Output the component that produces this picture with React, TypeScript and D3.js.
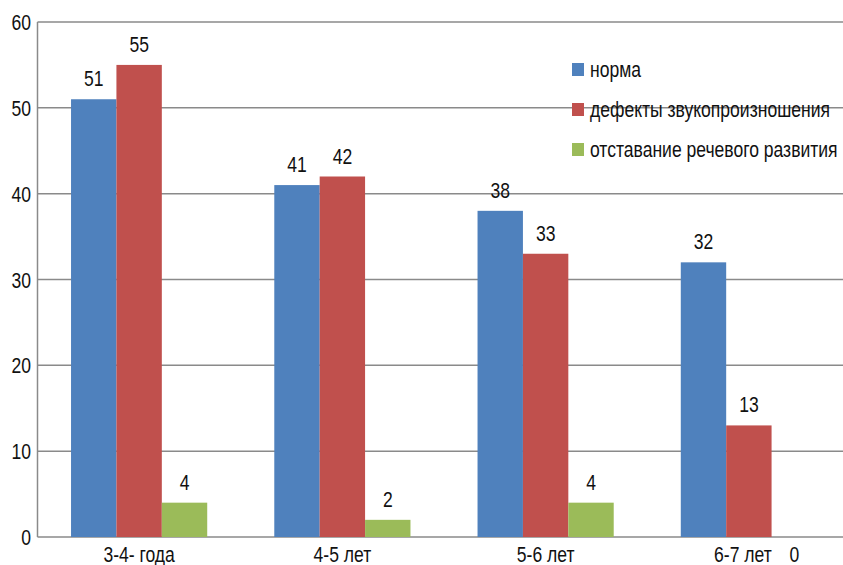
import React from "react";
import * as d3 from "d3";

const categories = ["3-4- года", "4-5 лет", "5-6 лет", "6-7 лет"];
const seriesNames = ["норма", "дефекты звукопроизношения", "отставание речевого развития"];
const norma = [51, 41, 38, 32];
const defects = [55, 42, 33, 13];
const delay = [4, 2, 4, 0];
const yTicks = [0, 10, 20, 30, 40, 50, 60];
const colors = ["#4F81BD", "#C0504D", "#9BBB59"];

const W = 843;
const H = 565;
const FONT = "'Liberation Sans', Arial, sans-serif";
const FS = 22.5;
const SX = 0.78;

function T({ x, y, anchor, children }: { x: number; y: number; anchor: string; children: React.ReactNode }) {
  return (
    <g transform={`translate(${x},${y}) scale(${SX},1)`}>
      <text x={0} y={0} textAnchor={anchor} fontFamily={FONT} fontSize={FS} fill="#111">
        {children}
      </text>
    </g>
  );
}

export default function App() {
  const series = [norma, defects, delay];
  const left = 37.5;
  const right = 850.5;
  const top = 22;
  const bottom = 537;
  const y = d3.scaleLinear().domain([0, 60]).range([bottom, top]);
  const x0 = d3.scaleBand<string>().domain(categories).range([left, right]).paddingInner(0).paddingOuter(0);
  const bw = x0.bandwidth();
  const x1 = d3
    .scaleBand<string>()
    .domain(seriesNames)
    .range([bw * 0.165, bw * 0.835])
    .padding(0);

  return (
    <svg width={W} height={H} style={{ position: "absolute", left: 0, top: 0, background: "#fff" }}>
      {yTicks.map((t) => (
        <g key={t}>
          <line x1={left} x2={W} y1={y(t)} y2={y(t)} stroke="#8a8a8a" strokeWidth={1.5} />
          <T x={31} y={y(t) + 8} anchor="end">{t}</T>
        </g>
      ))}
      <line x1={left} x2={left} y1={top} y2={bottom} stroke="#8a8a8a" strokeWidth={1.5} />
      {categories.map((c, ci) => (
        <g key={c}>
          {series.map((s, si) => {
            const bx = (x0(c) as number) + (x1(seriesNames[si]) as number);
            const v = s[ci];
            const w = x1.bandwidth();
            return (
              <g key={si}>
                {v > 0 && (
                  <rect x={bx} y={y(v)} width={w} height={y(0) - y(v)} fill={colors[si]} />
                )}
                <T x={bx + w / 2} y={v > 0 ? y(v) - 13 : y(0) + 25} anchor="middle">{v}</T>
              </g>
            );
          })}
          <T x={(x0(c) as number) + bw / 2 - (ci === categories.length - 1 ? 6 : 0)} y={y(0) + 25} anchor="middle">{c}</T>
        </g>
      ))}
      {seriesNames.map((n, i) => (
        <g key={n}>
          <rect x={572} y={63 + i * 40} width={12} height={13} fill={colors[i]} />
          <T x={590} y={77 + i * 40} anchor="start">{n}</T>
        </g>
      ))}
    </svg>
  );
}
